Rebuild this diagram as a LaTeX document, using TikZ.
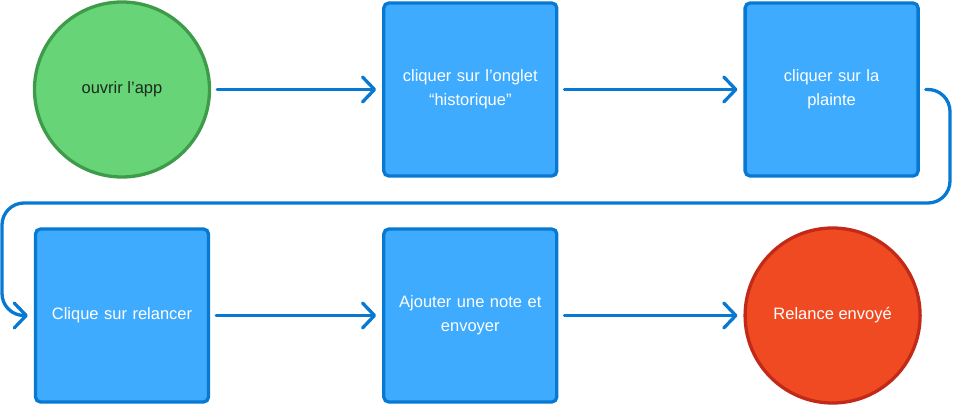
\documentclass[tikz,border=0pt]{standalone}
\usepackage{fontspec}
\setmainfont{Liberation Sans}
\usepackage{tikz}
\usetikzlibrary{arrows.meta,positioning}
\definecolor{greenfill}{HTML}{67D577}
\definecolor{greenline}{HTML}{3D9B4A}
\definecolor{bluefill}{HTML}{3EABFE}
\definecolor{blueline}{HTML}{0879D3}
\definecolor{redfill}{HTML}{F04A22}
\definecolor{redline}{HTML}{C12A18}
\definecolor{darktext}{HTML}{1B2A1D}

\begin{document}
\begin{tikzpicture}[x=1pt,y=1pt,
                    font=\fontsize{16.5}{24}\selectfont,
                    flow/.style={draw=blueline,line width=3.3pt,line cap=round,line join=round,
                      -{Straight Barb[length=12pt,width=25pt,line cap=round,line join=round]},
                      shorten >=6pt,shorten <=6pt}]
  \tikzset{startstate/.style={circle,draw=greenline,fill=greenfill,line width=3.3pt,
             minimum size=175pt,text=darktext,align=center}}
  \tikzset{endstate/.style={circle,draw=redline,fill=redfill,line width=3.3pt,
             minimum size=175pt,text=white,align=center}}
  \tikzset{action/.style={rectangle,rounded corners=5pt,draw=blueline,fill=bluefill,
             line width=3.3pt,minimum size=173pt,text=white,align=center,text width=155pt}}

  \useasboundingbox (0,0) rectangle (955,-406);

  \node[startstate] (S) at (122,-89.5)    {ouvrir l’app};
  \node[action]     (A) [right=171pt of S] {cliquer sur l’onglet\\“historique”};
  \node[action]     (B) [right=185pt of A] {cliquer sur la\\plainte};
  \node[action]     (C) at (122,-315.5)   {Clique sur relancer};
  \node[action]     (D) [right=172pt of C] {Ajouter une note et\\envoyer};
  \node[endstate]   (E) [right=185pt of D] {Relance envoyé};

  \coordinate (turnR) at (950,-203);
  \coordinate (turnL) at (2,-203);

  \path
(S) edge [flow] (A)
(A) edge [flow] (B)
(C) edge [flow] (D)
(D) edge [flow] (E);
  \draw[flow,rounded corners=22pt] (B.east) -| (turnR) -- (turnL) |- (C.west);
\end{tikzpicture}
\end{document}
